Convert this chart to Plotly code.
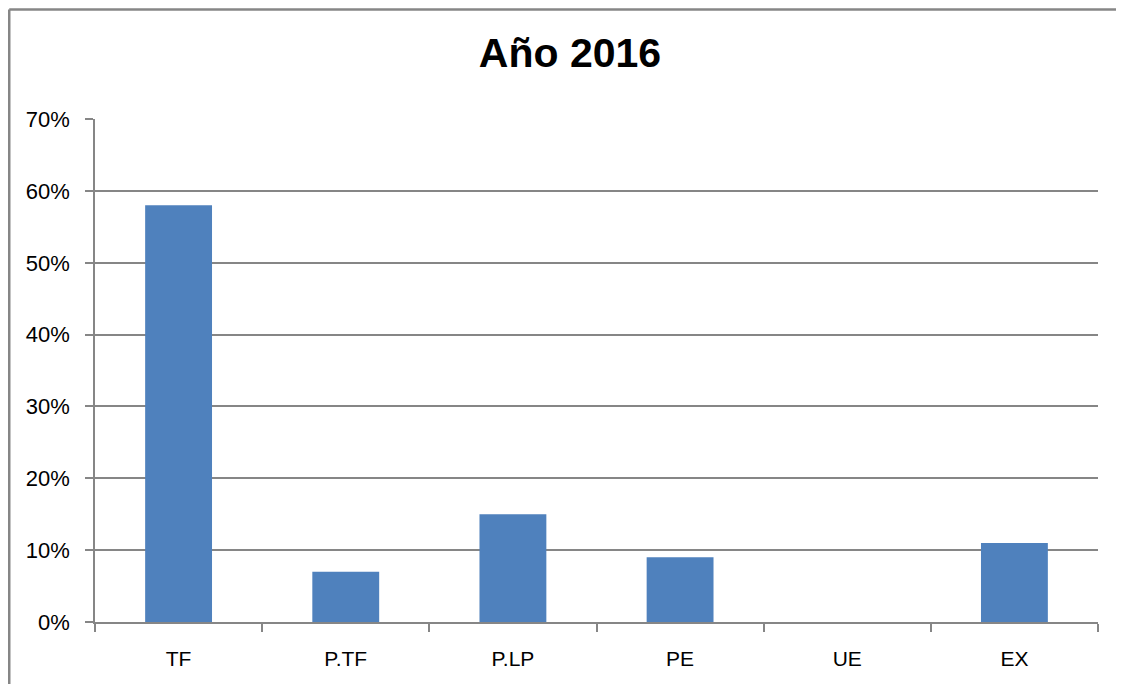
import plotly.graph_objects as go

categorias = ['TF', 'P.TF', 'P.LP', 'PE', 'UE', 'EX']
porcentajes = [58, 7, 15, 9, 0, 11]
y_ticks = [0, 10, 20, 30, 40, 50, 60, 70]
y_labels = ['0%', '10%', '20%', '30%', '40%', '50%', '60%', '70%']

gris = '#868686'
fuente = 'Liberation Sans, Arial, sans-serif'

fig = go.Figure()
fig.add_trace(go.Bar(x=categorias, y=porcentajes, marker=dict(color='#4F81BD', line=dict(width=0))))

# la página tiene 8px de margen, por eso los márgenes van corridos
fig.update_layout(
    width=1124, height=684,
    margin=dict(l=87, r=34, t=111, b=70),
    paper_bgcolor='white', plot_bgcolor='white',
    showlegend=False,
    bargap=0.6,
    title=dict(text='<b>Año 2016</b>', x=0.5, xanchor='center', y=1 - 45 / 684, yanchor='middle',
               font=dict(family=fuente, size=41, color='black')),
    font=dict(family=fuente, color='black'),
)

fig.update_xaxes(
    showline=True, linecolor=gris, linewidth=1.5,
    ticks='outside', tickson='boundaries', ticklen=8, tickcolor=gris, tickwidth=1.5,
    tickfont=dict(size=21, color='black'), showgrid=False, ticklabelstandoff=17,
)
fig.update_yaxes(
    range=[0, 70.02], tickmode='array', tickvals=y_ticks, ticktext=y_labels,
    showline=True, linecolor=gris, linewidth=1.5,
    ticks='outside', ticklen=8, tickcolor=gris, tickwidth=1.5,
    showgrid=True, gridcolor=gris, gridwidth=1.5,
    tickfont=dict(size=22, color='black'), zeroline=False, ticklabelstandoff=11,
)

# marco del gráfico (recortado a la derecha y abajo)
fig.add_shape(type='line', xref='paper', yref='paper', x0=-0.0855, x1=-0.0855, y0=1.2177, y1=-0.3,
              line=dict(color=gris, width=2.5))
fig.add_shape(type='line', xref='paper', yref='paper', x0=-0.0855, x1=1.2, y0=1.2177, y1=1.2177,
              line=dict(color=gris, width=2.5))

fig.write_html('out.html')
